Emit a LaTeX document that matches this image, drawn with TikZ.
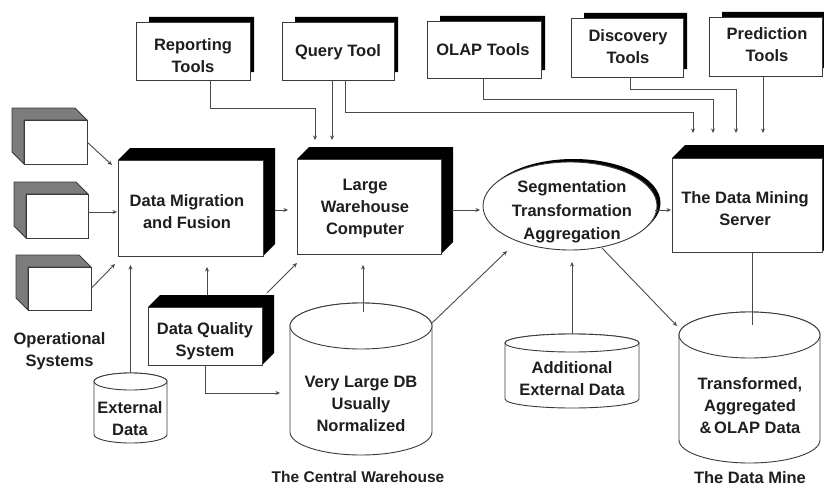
\documentclass[tikz,border=0pt]{standalone}
\usepackage{fontspec}
\setmainfont{Liberation Sans}
\usetikzlibrary{arrows.meta,calc,shapes.geometric,backgrounds}

\definecolor{ink}{HTML}{1E1E1E}
\definecolor{linegray}{HTML}{4A4A4A}
\definecolor{edgegray}{HTML}{3A3A3A}
\definecolor{sidegray}{HTML}{7C7C7C}

% database cylinder: name, centre x, top-ellipse y, bottom-ellipse y, x radius, y radius
\newcommand\dbcyl[6]{%
  \coordinate (#1-c) at (#2,#3);
  \coordinate (#1-top) at (#2,#3-#6);
  \filldraw[face] (#2-#5,#3) -- (#2-#5,#4)
    arc[start angle=180,end angle=0,x radius=#5,y radius=#6]
    -- (#2+#5,#3)
    arc[start angle=0,end angle=-180,x radius=#5,y radius=#6] -- cycle;
  \draw[face] (#2,#3) ellipse[x radius=#5,y radius=#6];
}

\begin{document}
\begin{tikzpicture}[x=1pt,y=-1pt,
  conn/.style={draw=linegray,line width=0.9pt},
  arr/.style={conn,-{Stealth[length=4.5pt,width=4pt]}},
  face/.style={draw=edgegray,line width=0.9pt,fill=white},
  box/.style={face,rectangle,inner sep=0pt,outer sep=0pt},
  lbl/.style={font=\fontsize{16.5}{22}\selectfont\bfseries,text=ink,align=center,inner sep=0pt},
]
\useasboundingbox (0,0) rectangle (824,487);

% ---------- tool boxes ----------
\node[box,minimum width=114pt,minimum height=58pt] (rep)  at (193,51)    {};
\node[box,minimum width=112pt,minimum height=58pt] (qry)  at (338,51)    {};
\node[box,minimum width=114pt,minimum height=57pt] (olap) at (484,49.5)  {};
\node[box,minimum width=112pt,minimum height=59pt] (disc) at (627,47.5)  {};
\node[box,minimum width=113pt,minimum height=59pt] (pred) at (765.5,46.5){};

% ---------- main 3-D boxes ----------
\node[box,minimum width=145pt,minimum height=96pt] (dmf) at (190.5,208) {};
\node[box,minimum width=144pt,minimum height=95pt] (lwc) at (369,206.5) {};
\node[box,minimum width=150pt,minimum height=94pt] (dms) at (747,205)   {};
\node[box,minimum width=114pt,minimum height=58pt] (dqs) at (205,336)   {};

% ---------- operational systems ----------
\node[box,minimum width=63pt,minimum height=44pt] (op1) at (55.5,142)  {};
\node[box,minimum width=62pt,minimum height=44pt] (op2) at (57,216)    {};
\node[box,minimum width=63pt,minimum height=43pt] (op3) at (59.5,288.5){};

% ---------- segmentation ellipse ----------
\node[face,ellipse,inner sep=0pt,outer sep=0pt,minimum width=174pt,minimum height=88pt] (seg) at (570,206) {};

% ---------- paper, shadows and side faces ----------
\begin{scope}[on background layer]
  \fill[white] (0,0) rectangle (824,487);
  \foreach \b in {rep,qry,olap,disc,pred}{
    \fill[black] ($(\b.north west)+(13,0)$) -- ++(0,-5)
      -| ($(\b.south east)+(4,-8)$) -- ($(\b.south east)+(0,-8)$)
      -- (\b.north east) -- cycle;
  }
  \foreach \b/\d in {dmf/12,lwc/12,dms/13,dqs/12}{
    \fill[black] (\b.north west) -- ++(\d,-\d)
      -- ($(\b.north east)+(\d,-\d)$) -- ($(\b.south east)+(\d,-\d)$)
      -- (\b.south east) -- (\b.north east) -- cycle;
  }
  \foreach \b in {op1,op2,op3}{
    \filldraw[fill=sidegray,draw=edgegray,line width=0.9pt]
      (\b.south west) -- ++(-12,-12) -- ($(\b.north west)+(-12,-12)$)
      -- ($(\b.north east)+(-12,-12)$) -- (\b.north east)
      -- (\b.north west) -- cycle;
  }
  \fill[black] ($(seg.center)+(3.5,-3)$) ellipse[x radius=87,y radius=44];
\end{scope}

% ---------- databases ----------
\dbcyl{ext}{130.5}{381.5}{434.5}{36.5}{8.5}
\dbcyl{vldb}{361}{326}{432}{71}{23}
\dbcyl{add}{572}{343}{399}{67}{9}
\dbcyl{mine}{749.5}{335}{440}{70.5}{23}

% ---------- texts ----------
\node[lbl] (rep-t)  at (193,56)  {Reporting\\Tools};
\node[lbl] (qry-t)  at (338,52)  {Query Tool};
\node[lbl] (olap-t) at (483,50)  {OLAP Tools};
\node[lbl] (disc-t) at (628,46.5){Discovery\\Tools};
\node[lbl] (pred-t) at (767,45)  {Prediction\\Tools};
\node[lbl] (dmf-t)  at (187,211.5){Data Migration\\and Fusion};
\node[lbl] (lwc-t)  at (365,209) {Large\\Warehouse\\Computer};
\node[lbl,font=\fontsize{16.5}{23.5}\selectfont\bfseries] (seg-t) at (572,212) {Segmentation\\Transformation\\Aggregation};
\node[lbl] (dms-t)  at (745,209) {The Data Mining\\Server};
\node[lbl] (dqs-t)  at (205,341) {Data Quality\\System};
\node[lbl] (ops-t)  at (59.5,351){Operational\\Systems};
\node[lbl] (ext-t)  at (130,419) {External\\Data};
\node[lbl] (vldb-t) at (361,404) {Very Large DB\\Usually\\Normalized};
\node[lbl] (add-t)  at (572,379) {Additional\\External Data};
\node[lbl] (mine-t) at (750,406) {Transformed,\\Aggregated\\\&\,OLAP Data};
\node[lbl,font=\fontsize{15.5}{20}\selectfont\bfseries] (cw-t) at (358,477) {The Central Warehouse};
\node[lbl] (dm-t)   at (750,478) {The Data Mine};

% ---------- arrow targets ----------
\coordinate (lwc-a1) at (315,140);
\coordinate (lwc-a2) at (332,140);
\coordinate (lwc-a3) at (288,210);
\coordinate (lwc-a4) at (297,263);
\coordinate (lwc-a5) at (363,265);
\coordinate (dms-a1) at (693,133);
\coordinate (dms-a2) at (713,133);
\coordinate (dms-a3) at (736,133);
\coordinate (dms-a4) at (763,133);
\coordinate (dms-a5) at (671,210);
\coordinate (dmf-a1) at (112,165);
\coordinate (dmf-a3) at (115,264);
\coordinate (dmf-a4) at (130.5,265);
\coordinate (dmf-a5) at (207,267);
\coordinate (vldb-a) at (280,393);
\coordinate (seg-a1) at (507,251);
\coordinate (seg-a2) at (480,210);
\coordinate (seg-a3) at (572,262);
\coordinate (mine-a) at (677,326);

% ---------- connectors ----------
\draw[arr] ([xshift=17pt]rep.south) -- ++(0,28) -| (lwc-a1);
\draw[arr] (lwc-a2 |- qry.south) -- (lwc-a2);
\draw[arr] ([xshift=7pt]qry.south) -- ++(0,32) -| (dms-a1);
\draw[arr] ([xshift=-1pt]olap.south) -- ++(0,21) -| (dms-a2);
\draw[arr] ([xshift=3pt]disc.south) -- ++(0,12) -| (dms-a3);
\draw[arr] (dms-a4 |- pred.south) -- (dms-a4);

\draw[arr] (op1.east) -- (dmf-a1);
\draw[arr] ($(op2.east)+(0,-4)$) -- ($(op2.east -| dmf.west)+(-1,-4)$);
\draw[arr] (op3.east) -- (dmf-a3);
\draw[arr] (lwc-a3 -| dmf.east) ++(12,0) -- (lwc-a3);

\draw[arr] (ext-top) -- (dmf-a4);
\draw[arr] (dmf-a5 |- dqs.north) ++(0,-12) -- (dmf-a5);
\draw[arr] ($(dqs.north east)+(5,-14)$) -- (lwc-a4);
\draw[arr] (dqs.south) |- (vldb-a);
\draw[arr] ($(vldb-top)+(2,9)$) -- (lwc-a5);
\draw[arr] ($(vldb-c)+(71,-3)$) -- (seg-a1);

\draw[arr] (seg-a2 -| lwc.east) ++(11,0) -- (seg-a2);
\draw[arr] ($(seg.east)+(-2,4)$) -- (dms-a5);
\draw[arr] (add-top) -- (seg-a3);
\draw[arr] ($(seg.south)+(32,-2)$) -- (mine-a);
\draw[conn] ($(dms.south)+(5,0)$) -- ($(mine-top)+(2.5,13)$);
\end{tikzpicture}
\end{document}
